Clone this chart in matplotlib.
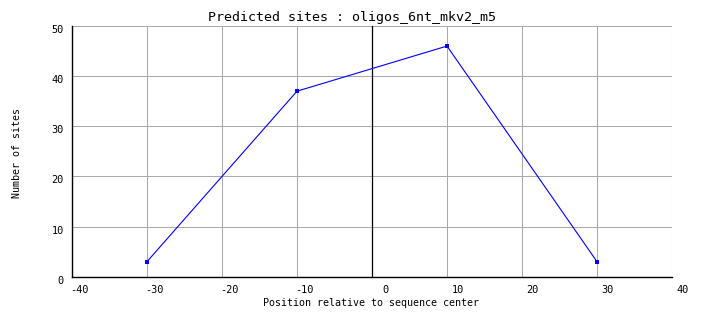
import matplotlib
matplotlib.use("Agg")
import matplotlib.pyplot as plt
import matplotlib.transforms as mtransforms

positions = [-30, -10, 10, 30]
sites = [3, 37, 46, 3]
x_ticks = [-40, -30, -20, -10, 0, 10, 20, 30, 40]
y_ticks = [0, 10, 20, 30, 40, 50]

mono = "DejaVu Sans Mono"
fig = plt.figure(figsize=(7.04, 3.28), dpi=100)
ax = fig.add_axes([72/704, 1-276.7/328, 600/704, 250.7/328])
ax.set_xlim(-40, 40)
ax.set_ylim(0, 50)

ax.grid(True, color="#aaaaaa", linewidth=0.75)
ax.set_axisbelow(True)
ax.axvline(0, color="black", linewidth=0.9, zorder=2)
ax.plot(positions, sites, color="#0000ff", linewidth=0.8, marker="s",
        markersize=2.6, markeredgewidth=0, zorder=3)

for s in ["top", "right"]:
    ax.spines[s].set_visible(False)
for s in ["left", "bottom"]:
    ax.spines[s].set_color("black")
    ax.spines[s].set_linewidth(1.0)

ax.set_xticks(x_ticks)
ax.set_yticks(y_ticks)
ax.set_xticklabels([str(v) for v in x_ticks], fontfamily=mono, fontsize=7.4, ha="right")
ax.set_yticklabels([str(v) for v in y_ticks], fontfamily=mono, fontsize=7.4)
ax.tick_params(axis="both", length=0)
ax.tick_params(axis="x", pad=6)
ax.tick_params(axis="y", pad=6)

offx = mtransforms.ScaledTranslation(16.7/100, 0, fig.dpi_scale_trans)
for lab in ax.get_xticklabels():
    lab.set_transform(lab.get_transform() + offx)
offy = mtransforms.ScaledTranslation(0, -3/100, fig.dpi_scale_trans)
for lab in ax.get_yticklabels():
    lab.set_transform(lab.get_transform() + offy)

fig.text(351.5/704, 1-18/328, "Predicted sites : oligos_6nt_mkv2_m5",
         fontfamily=mono, fontsize=9.6, ha="center", va="center")
fig.text(370.8/704, 1-302.5/328, "Position relative to sequence center",
         fontfamily=mono, fontsize=7.2, ha="center", va="center")
fig.text(17.5/704, 1-152.5/328, "Number of sites",
         fontfamily=mono, fontsize=7.2, ha="center", va="center", rotation=90)

fig.savefig("out.png", dpi=100)
